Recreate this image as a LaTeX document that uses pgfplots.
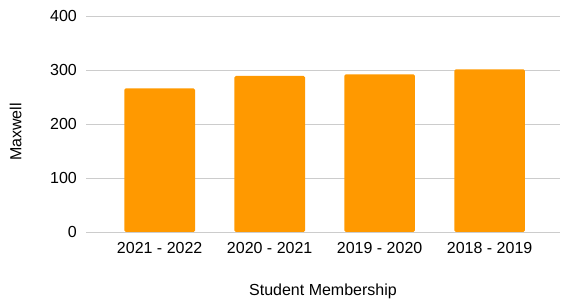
\documentclass[border=0pt]{standalone}
\usepackage{fontspec}
\setmainfont{Liberation Sans}
\usepackage{pgfplots}
\pgfplotsset{compat=1.18}
\definecolor{barorange}{HTML}{FF9900}
\definecolor{gridgray}{HTML}{CCCCCC}
\definecolor{basegray}{HTML}{707070}
\begin{document}
\begin{tikzpicture}
\path[use as bounding box] (0,0) rectangle (562bp,301bp);
\begin{axis}[
  at={(86bp,69bp)}, anchor=south west,
  scale only axis,
  width=474bp, height=216bp,
  xmin=-0.67, xmax=3.64,
  ymin=0, ymax=400,
  ytick={0,100,200,300,400},
  xtick=data,
  xticklabels={2021 - 2022, 2020 - 2021, 2019 - 2020, 2018 - 2019},
  major tick length=0pt,
  axis line style={draw=none},
  ymajorgrids,
  grid style={gridgray, line width=0.8bp},
  font=\fontsize{16bp}{19bp}\selectfont,
  /pgf/number format/assume math mode=true,
  xticklabel style={inner sep=0pt, anchor=north, yshift=-9.7bp},
  yticklabel style={inner sep=0pt, anchor=east, xshift=-9bp},
  xlabel={Student Membership},
  ylabel={Maxwell},
  xlabel style={at={(axis description cs:0.5,0)}, anchor=north, inner sep=0pt, yshift=-51.3bp},
  ylabel style={at={(axis description cs:0,0.463)}, anchor=center, inner sep=0pt, yshift=70.3bp},
  ybar, bar width=70.7bp,
]
\addplot[fill=barorange, draw=none, rounded corners=1.5bp] coordinates {(0,266) (1,289) (2,292) (3,301)};
\draw[basegray, line width=1bp] (rel axis cs:0,0) -- (rel axis cs:1,0);
\end{axis}
\end{tikzpicture}
\end{document}
